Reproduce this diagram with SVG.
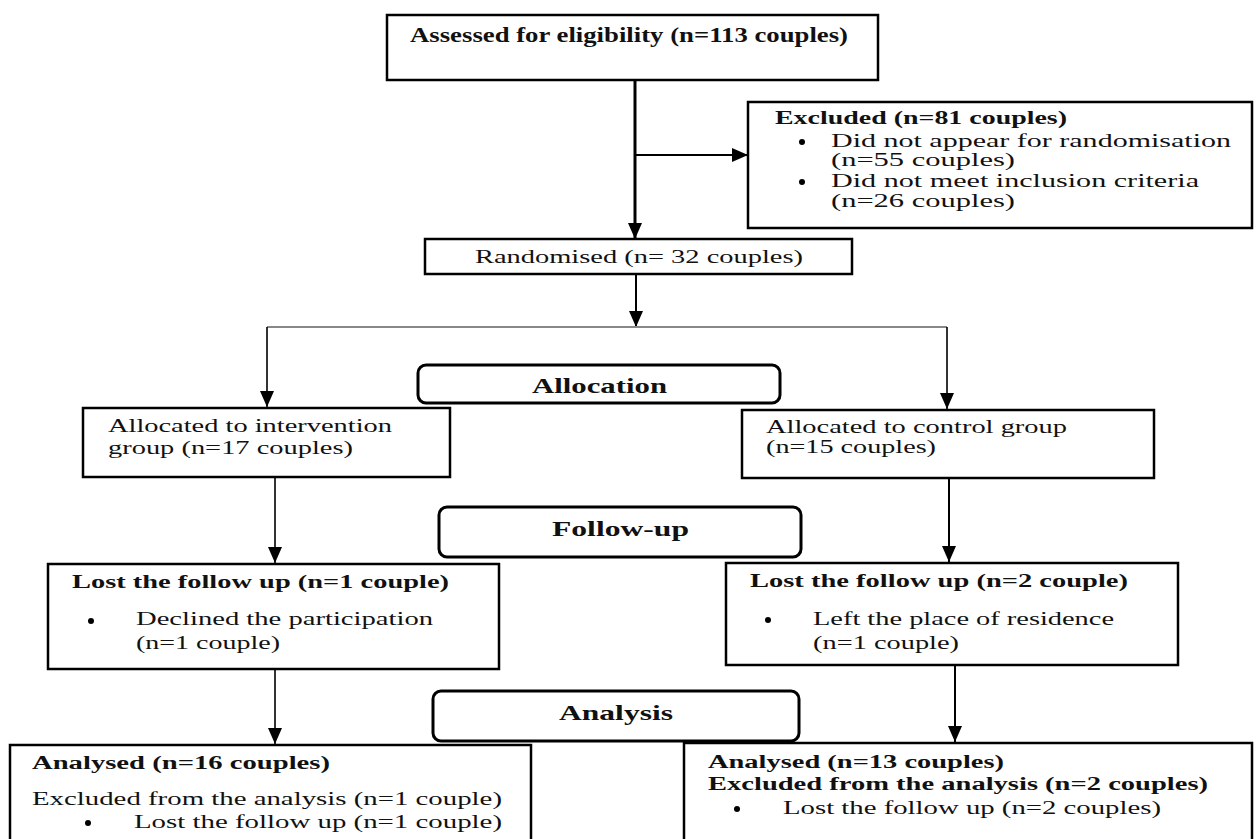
<svg xmlns="http://www.w3.org/2000/svg" width="1258" height="839" viewBox="0 0 1258 839">
<style>
.box{fill:#fff;stroke:#000;stroke-width:2.5}
.rbox{fill:#fff;stroke:#000;stroke-width:3}
.t{font-family:"Liberation Serif","Times New Roman",serif;font-size:18px;fill:#111}
.b{font-weight:bold}
.h{font-size:21px}
.c{fill:none;stroke:#000;stroke-width:2}
.thin{stroke-width:1.6}
.gray{fill:none;stroke:#888;stroke-width:2}
.dot{fill:#000}
</style>
<defs>
<marker id="ah" markerUnits="userSpaceOnUse" markerWidth="16" markerHeight="16" viewBox="0 0 16 16" refX="16" refY="8" orient="auto">
<path d="M0,1 L16,8 L0,15 Z" fill="#000"/>
</marker>
</defs>
<rect width="1258" height="839" fill="#fff"/>
<g id="connectors">
<line class="c" x1="635" y1="80" x2="635" y2="239" marker-end="url(#ah)" style="stroke-width:3"/>
<line class="c" x1="635" y1="155" x2="748" y2="155" marker-end="url(#ah)"/>
<line class="c" x1="636" y1="274" x2="636" y2="327" marker-end="url(#ah)"/>
<line class="gray" x1="267" y1="327" x2="947" y2="327"/>
<line class="c thin" x1="267" y1="327" x2="267" y2="407" marker-end="url(#ah)"/>
<line class="c thin" x1="947" y1="327" x2="947" y2="409" marker-end="url(#ah)"/>
<line class="c thin" x1="275" y1="477" x2="275" y2="563" marker-end="url(#ah)"/>
<line class="c" x1="949" y1="478" x2="949" y2="562" marker-end="url(#ah)"/>
<line class="c thin" x1="275" y1="669" x2="275" y2="744" marker-end="url(#ah)"/>
<line class="c" x1="955" y1="665" x2="955" y2="742" marker-end="url(#ah)"/>
</g>
<g id="assessed">
<rect class="box" x="387" y="15" width="491" height="65"/>
<text class="t b h" x="410" y="42" textLength="438" lengthAdjust="spacingAndGlyphs">Assessed for eligibility (n=113 couples)</text>
</g>
<g id="excluded">
<rect class="box" x="748" y="102" width="504" height="126"/>
<text class="t b" x="775" y="124" textLength="292" lengthAdjust="spacingAndGlyphs">Excluded (n=81 couples)</text>
<circle class="dot" cx="802" cy="142" r="3"/>
<text class="t" x="831" y="147" textLength="400" lengthAdjust="spacingAndGlyphs">Did not appear for randomisation</text>
<text class="t" x="831" y="166" textLength="184" lengthAdjust="spacingAndGlyphs">(n=55 couples)</text>
<circle class="dot" cx="802" cy="182" r="3"/>
<text class="t" x="831" y="187" textLength="368" lengthAdjust="spacingAndGlyphs">Did not meet inclusion criteria</text>
<text class="t" x="831" y="207" textLength="184" lengthAdjust="spacingAndGlyphs">(n=26 couples)</text>
</g>
<g id="randomised">
<rect class="box" x="425" y="239" width="427" height="35"/>
<text class="t" x="475" y="263" textLength="328" lengthAdjust="spacingAndGlyphs">Randomised (n= 32 couples)</text>
</g>
<g id="allocation">
<rect class="rbox" x="418" y="365" width="362" height="38" rx="8"/>
<text class="t b h" x="532" y="393" textLength="135" lengthAdjust="spacingAndGlyphs">Allocation</text>
</g>
<g id="alloc-intervention">
<rect class="box" x="83" y="408" width="367" height="69"/>
<text class="t" x="108" y="432" textLength="284" lengthAdjust="spacingAndGlyphs">Allocated to intervention</text>
<text class="t" x="108" y="454" textLength="245" lengthAdjust="spacingAndGlyphs">group (n=17 couples)</text>
</g>
<g id="alloc-control">
<rect class="box" x="742" y="410" width="412" height="68"/>
<text class="t" x="766" y="433" textLength="301" lengthAdjust="spacingAndGlyphs">Allocated to control group</text>
<text class="t" x="766" y="453" textLength="170" lengthAdjust="spacingAndGlyphs">(n=15 couples)</text>
</g>
<g id="followup">
<rect class="rbox" x="439" y="507" width="362" height="50" rx="8"/>
<text class="t b h" x="552" y="536" textLength="137" lengthAdjust="spacingAndGlyphs">Follow-up</text>
</g>
<g id="lost-intervention">
<rect class="box" x="48" y="564" width="451" height="105"/>
<text class="t b" x="72" y="588" textLength="377" lengthAdjust="spacingAndGlyphs">Lost the follow up (n=1 couple)</text>
<circle class="dot" cx="91" cy="621" r="3"/>
<text class="t" x="136" y="625" textLength="297" lengthAdjust="spacingAndGlyphs">Declined the participation</text>
<text class="t" x="136" y="649" textLength="144" lengthAdjust="spacingAndGlyphs">(n=1 couple)</text>
</g>
<g id="lost-control">
<rect class="box" x="726" y="563" width="452" height="102"/>
<text class="t b" x="750" y="587" textLength="378" lengthAdjust="spacingAndGlyphs">Lost the follow up (n=2 couple)</text>
<circle class="dot" cx="768" cy="620" r="3"/>
<text class="t" x="813" y="625" textLength="301" lengthAdjust="spacingAndGlyphs">Left the place of residence</text>
<text class="t" x="813" y="649" textLength="146" lengthAdjust="spacingAndGlyphs">(n=1 couple)</text>
</g>
<g id="analysis">
<rect class="rbox" x="433" y="691" width="366" height="50" rx="8"/>
<text class="t b h" x="559" y="720" textLength="114" lengthAdjust="spacingAndGlyphs">Analysis</text>
</g>
<g id="analysed-intervention">
<rect class="box" x="10" y="745" width="521" height="110"/>
<text class="t b" x="32" y="769" textLength="298" lengthAdjust="spacingAndGlyphs">Analysed (n=16 couples)</text>
<text class="t" x="32" y="805" textLength="470" lengthAdjust="spacingAndGlyphs">Excluded from the analysis (n=1 couple)</text>
<circle class="dot" cx="88" cy="823" r="3"/>
<text class="t" x="134" y="828" textLength="368" lengthAdjust="spacingAndGlyphs">Lost the follow up (n=1 couple)</text>
</g>
<g id="analysed-control">
<rect class="box" x="684" y="743" width="568" height="110"/>
<text class="t b" x="708" y="768" textLength="296" lengthAdjust="spacingAndGlyphs">Analysed (n=13 couples)</text>
<text class="t b" x="708" y="790" textLength="500" lengthAdjust="spacingAndGlyphs">Excluded from the analysis (n=2 couples)</text>
<circle class="dot" cx="737" cy="809" r="3"/>
<text class="t" x="783" y="814" textLength="378" lengthAdjust="spacingAndGlyphs">Lost the follow up (n=2 couples)</text>
</g>
</svg>
